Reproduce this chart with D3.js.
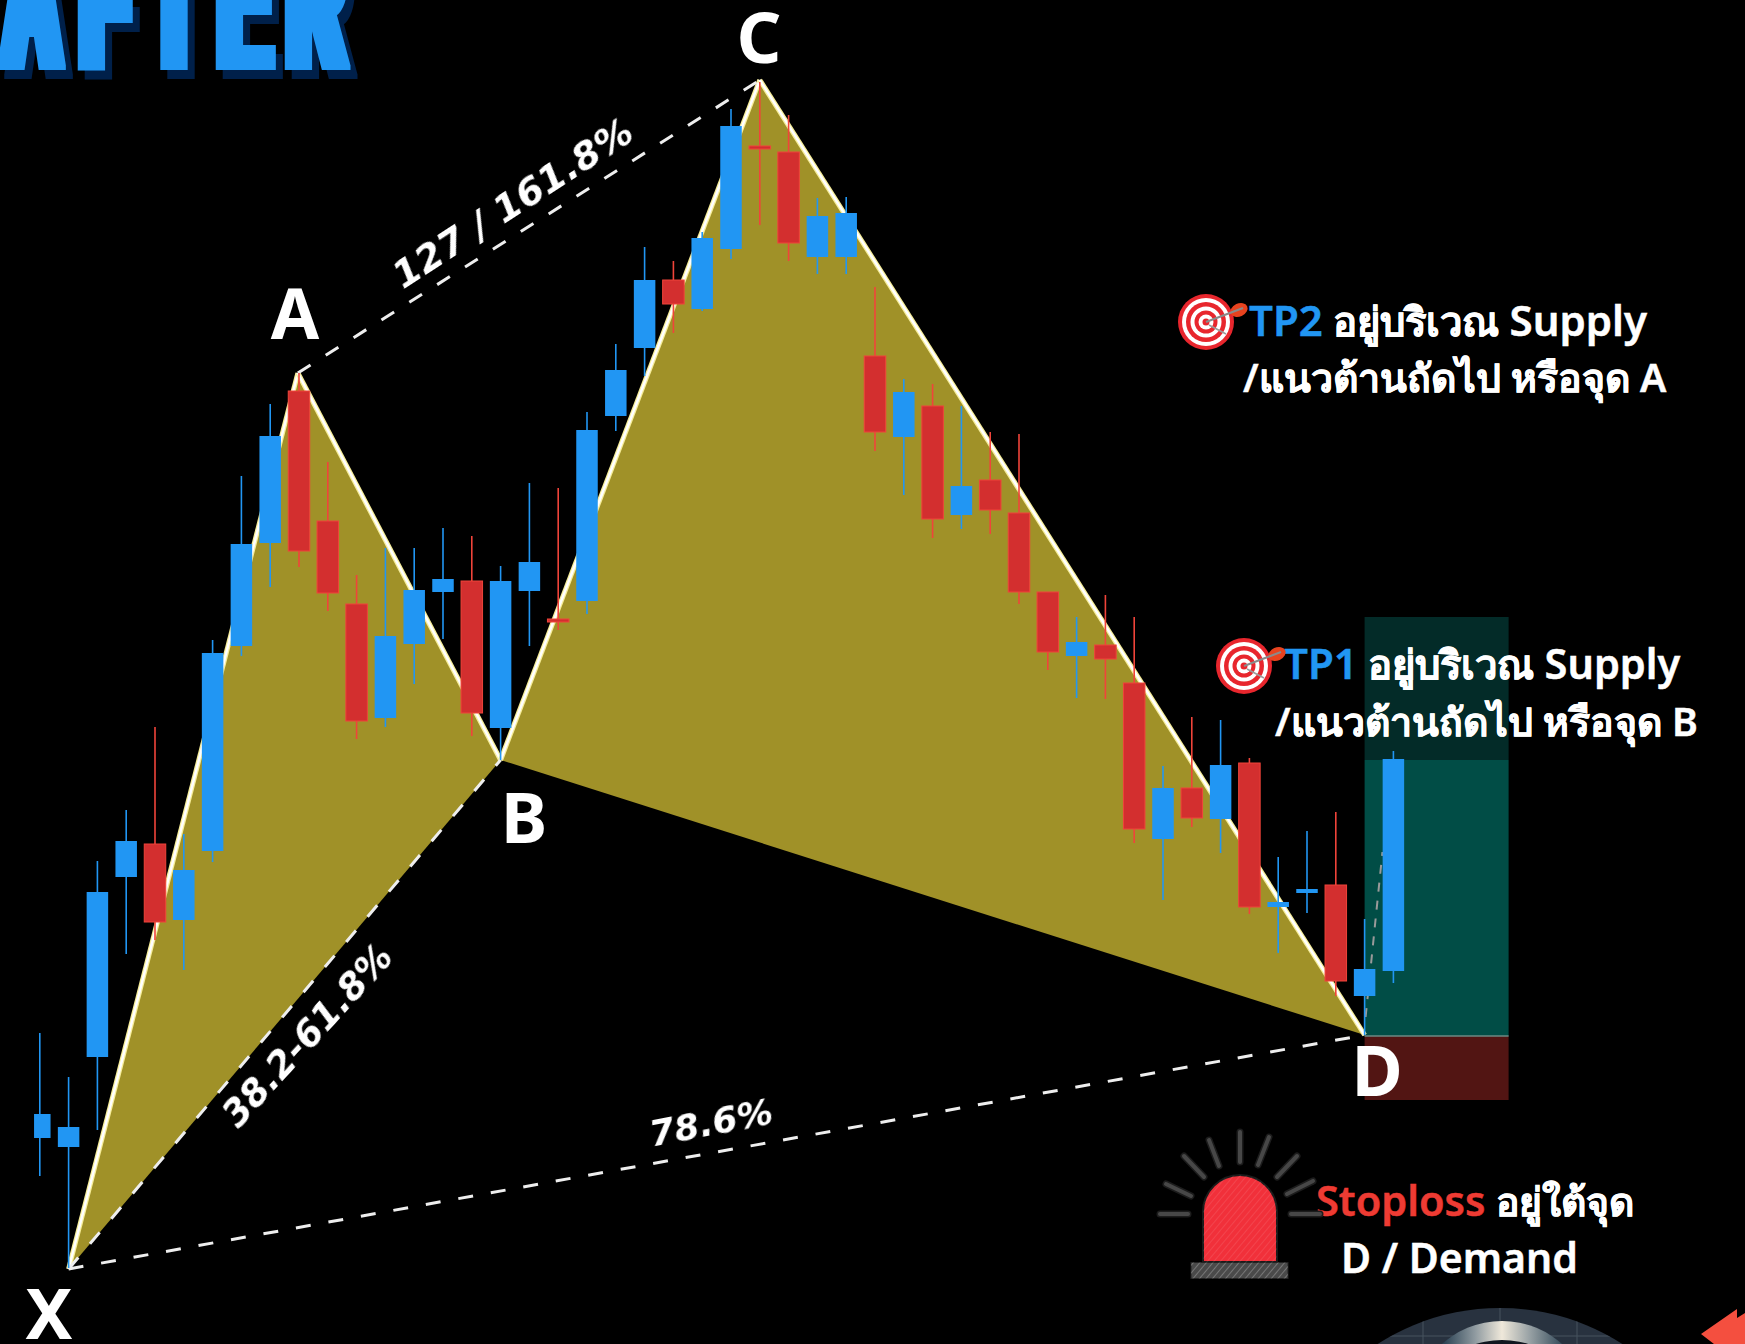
<!DOCTYPE html>
<html>
<head>
<meta charset="utf-8">
<script src="https://cdn.jsdelivr.net/npm/d3@7"></script>
<style>
  html, body { margin: 0; padding: 0; background: #000; overflow: hidden; }
  svg { display: block; }
  text { font-family: "Noto Sans", "Open Sans", sans-serif; }
</style>
</head>
<body>
<svg id="chart"></svg>
<script>
// Harmonic XABCD pattern drawn over a candle series

const WIDTH = 1745, HEIGHT = 1344;

// candle values (price units = pixels up from chart bottom)
const opens  = [206, 197, 287, 467, 500, 424, 493, 698, 801, 953, 823, 740, 626, 700, 752, 763, 616, 753, 725, 743, 928, 996, 1064, 1035, 1095, 1198, 1192, 1087, 1087, 988, 907, 938, 829, 864, 831, 752, 688, 699, 661, 505, 556, 525, 581, 437, 451, 459, 348, 373];
const closes = [230, 217, 452, 503, 422, 474, 691, 800, 908, 793, 751, 623, 708, 754, 765, 631, 763, 782, 722, 914, 974, 1064, 1040, 1106, 1218, 1197, 1101, 1128, 1131, 912, 952, 825, 858, 834, 752, 692, 702, 685, 515, 556, 526, 579, 437, 442, 455, 363, 375, 585];
const highs  = [311, 267, 483, 534, 617, 510, 704, 868, 940, 971, 882, 769, 796, 796, 816, 808, 778, 861, 856, 932, 1000, 1097, 1083, 1112, 1235, 1262, 1229, 1146, 1147, 1057, 965, 960, 938, 912, 910, 752, 727, 749, 727, 578, 627, 624, 586, 487, 513, 532, 425, 593];
const lows   = [168, 76, 214, 390, 404, 374, 482, 688, 757, 777, 733, 605, 617, 660, 705, 608, 584, 698, 714, 730, 913, 968, 1011, 1033, 1085, 1119, 1083, 1070, 1070, 893, 849, 806, 815, 810, 740, 674, 646, 645, 501, 444, 517, 491, 430, 391, 431, 348, 309, 361];
const isUp   = ['u','u','u','u','d','u','u','u','u','d','d','d','u','u','u','d','u','u','d','u','u','u','d','u','u','d','d','u','u','d','u','d','u','d','d','d','u','d','d','u','d','u','d','u','u','d','u','u'];

// harmonic pattern pivots
const pivotNames = ['X', 'A', 'B', 'C', 'D'];
const pivotIndex = [1, 8.96, 16, 25, 46];
const pivotPrice = [75, 971, 584, 1264, 309];

// position box levels
const boxStartIndex = 46, boxEndIndex = 51;
const tp2Level = 727, tp1Level = 584, entryLevel = 308, stopLevel = 244;

// ratio labels
const ratioLabels = ['127 / 161.8%', '38.2-61.8%', '78.6%'];

const xScale = d3.scaleLinear().domain([0, 47]).range([39.8, 1393.4]);
const yScale = d3.scaleLinear().domain([0, HEIGHT]).range([HEIGHT, 0]);

const BLUE = '#2196F3', RED = '#D32F2F', RED_EDGE = '#F0443A', FILL = '#A09128';
const BODY_W = 21.5;

const svg = d3.select('#chart').attr('width', WIDTH).attr('height', HEIGHT)
  .attr('viewBox', `0 0 ${WIDTH} ${HEIGHT}`);

svg.append('rect').attr('width', WIDTH).attr('height', HEIGHT).attr('fill', '#000');

const defs = svg.append('defs');
const hatch = defs.append('pattern').attr('id', 'hatch').attr('width', 5).attr('height', 5)
  .attr('patternUnits', 'userSpaceOnUse').attr('patternTransform', 'rotate(40)');
hatch.append('line').attr('x1', 0).attr('y1', 0).attr('x2', 0).attr('y2', 5)
  .attr('stroke', '#fff').attr('stroke-width', 0.9).attr('stroke-opacity', 0.55);
defs.append('filter').attr('id', 'soft').append('feGaussianBlur').attr('stdDeviation', 0.6);
const metal = defs.append('linearGradient').attr('id', 'metal');
[[0.18, '#2d4455'], [0.35, '#8f9aa0'], [0.5, '#EFE8DA'], [0.65, '#9aa3a6'], [0.85, '#2d4455']].forEach(([o, c]) => {
  metal.append('stop').attr('offset', o).attr('stop-color', c);
});
defs.append('clipPath').attr('id', 'domeClip').append('circle').attr('cx', 1500).attr('cy', 1534).attr('r', 226);

// title font gets fattened sideways and given a hard shadow
const fat = defs.append('filter').attr('id', 'fatTitle')
  .attr('filterUnits', 'userSpaceOnUse')
  .attr('x', -60).attr('y', -120).attr('width', 500).attr('height', 260)
  .attr('color-interpolation-filters', 'sRGB');
fat.append('feMorphology').attr('in', 'SourceGraphic').attr('operator', 'dilate').attr('radius', '8 1.5').attr('result', 'fat');
fat.append('feOffset').attr('in', 'fat').attr('dx', 7).attr('dy', 9).attr('result', 'moved');
fat.append('feFlood').attr('flood-color', '#00204A').attr('result', 'ink');
fat.append('feComposite').attr('in', 'ink').attr('in2', 'moved').attr('operator', 'in').attr('result', 'shadow');
const fatMerge = fat.append('feMerge');
fatMerge.append('feMergeNode').attr('in', 'shadow');
fatMerge.append('feMergeNode').attr('in', 'fat');

// title, cut by the top and left of the frame
const TITLE_SX = 0.42;
svg.append('g').attr('filter', 'url(#fatTitle)').append('text')
  .attr('transform', `translate(0,67.5) scale(${TITLE_SX},1)`)
  .attr('x', [3.3, 80.5, 150, 218.5, 287.5].map(v => v / TITLE_SX).join(' '))
  .attr('font-size', 187)
  .attr('font-weight', 700)
  .attr('fill', BLUE)
  .style('font-family', '"Liberation Sans", sans-serif')
  .text('AFTER');

// position box
const boxX = xScale(boxStartIndex), boxW = xScale(boxEndIndex) - boxX;
svg.append('rect').attr('x', boxX).attr('width', boxW)
  .attr('y', yScale(tp2Level)).attr('height', yScale(tp1Level) - yScale(tp2Level)).attr('fill', '#032B28');
svg.append('rect').attr('x', boxX).attr('width', boxW)
  .attr('y', yScale(tp1Level)).attr('height', yScale(entryLevel) - yScale(tp1Level)).attr('fill', '#014D46');
svg.append('rect').attr('x', boxX).attr('width', boxW)
  .attr('y', yScale(entryLevel)).attr('height', yScale(stopLevel) - yScale(entryLevel)).attr('fill', '#521513');
svg.append('line').attr('x1', boxX).attr('x2', boxX + boxW)
  .attr('y1', yScale(entryLevel)).attr('y2', yScale(entryLevel)).attr('stroke', '#6d8a85').attr('stroke-width', 1.5);

// harmonic legs
const pivots = pivotNames.map((n, i) => ({ name: n, x: xScale(pivotIndex[i]), y: yScale(pivotPrice[i]) }));
const pt = Object.fromEntries(pivots.map(p => [p.name, p]));
const line = d3.line().x(d => d.x).y(d => d.y);

svg.append('path').attr('d', line([pt.X, pt.A, pt.B]) + 'Z').attr('fill', FILL);
svg.append('path').attr('d', line([pt.B, pt.C, pt.D]) + 'Z').attr('fill', FILL);

[[pt.X, pt.A], [pt.A, pt.B], [pt.B, pt.C], [pt.C, pt.D]].forEach(seg => {
  svg.append('path').attr('d', line(seg)).attr('fill', 'none').attr('stroke', '#F7EE9A').attr('stroke-width', 5);
  svg.append('path').attr('d', line(seg)).attr('fill', 'none').attr('stroke', '#fff').attr('stroke-width', 2.5);
});

[[pt.X, pt.B], [pt.A, pt.C], [pt.X, pt.D]].forEach(seg => {
  svg.append('path').attr('d', line(seg)).attr('fill', 'none')
    .attr('stroke', '#eee').attr('stroke-width', 3).attr('stroke-dasharray', '15 18');
});

// faint projection from D behind the last candle
svg.append('path')
  .attr('d', line([{ x: pt.D.x + 1, y: pt.D.y - 18 }, { x: xScale(46.62), y: yScale(492) }]))
  .attr('stroke', '#9a9a9a').attr('stroke-width', 2).attr('stroke-dasharray', '9 9').attr('fill', 'none');

// candles
const candles = opens.map((o, i) => ({ i, o, c: closes[i], h: highs[i], l: lows[i], up: isUp[i] === 'u' }));

const g = svg.append('g').attr('class', 'candles');
g.selectAll('line.wick').data(candles).join('line')
  .attr('class', 'wick')
  .attr('x1', d => xScale(d.i)).attr('x2', d => xScale(d.i))
  .attr('y1', d => yScale(d.h)).attr('y2', d => yScale(d.l))
  .attr('stroke', d => d.up ? BLUE : '#F0443A')
  .attr('stroke-width', 1.6);
// first candle's body is cut short on its left in the source
const bodyInset = d => d.i === 0 ? 5 : 0;
g.selectAll('rect.body').data(candles).join('rect')
  .attr('class', 'body')
  .attr('x', d => xScale(d.i) - BODY_W / 2 + bodyInset(d)).attr('width', d => BODY_W - bodyInset(d))
  .attr('y', d => yScale(Math.max(d.o, d.c)))
  .attr('height', d => Math.max(3, Math.abs(yScale(d.o) - yScale(d.c))))
  .attr('fill', d => d.up ? BLUE : RED)
  .attr('stroke', d => d.up ? 'none' : RED_EDGE)
  .attr('stroke-width', 1);

// pivot letters
const letterPos = { X: [49, 1339], A: [295, 339], B: [524, 843], C: [759, 63], D: [1377, 1096] };
pivotNames.forEach(n => {
  svg.append('text').attr('x', letterPos[n][0]).attr('y', letterPos[n][1])
    .attr('text-anchor', 'middle').attr('font-size', 70).attr('font-weight', 700)
    .attr('fill', '#fff').text(n);
});

// ratio labels
[[512.5, 203, -33, 38], [307, 1035, -47.5, 36.5], [711, 1122, -11, 36]].forEach(([x, y, r, s], i) => {
  svg.append('text')
    .attr('transform', `translate(${x},${y}) rotate(${r})`)
    .attr('text-anchor', 'middle').attr('dy', '0.35em')
    .attr('font-size', s).attr('font-weight', 700).attr('font-style', 'italic')
    .attr('fill', '#fff').attr('filter', 'url(#soft)')
    .style('font-family', '"DejaVu Sans", sans-serif')
    .text(ratioLabels[i]);
});

// annotation text
function note(x, y, parts) {
  const t = svg.append('text').attr('x', x).attr('y', y).attr('font-weight', 600)
    .attr('stroke-width', 0.5);
  parts.forEach(([s, c, fs]) => t.append('tspan').attr('fill', c).attr('stroke', c).attr('font-size', fs).text(s));
}
note(1249, 336, [['TP2', BLUE, 42], [' อยู่บริเวณ ', '#fff', 40], ['Supply', '#fff', 42]]);
note(1243, 392, [['/แนวต้านถัดไป หรือจุด A', '#fff', 39.2]]);
note(1284, 679, [['TP1', BLUE, 42], [' อยู่บริเวณ ', '#fff', 40], ['Supply', '#fff', 41.5]]);
note(1275, 736, [['/แนวต้านถัดไป หรือจุด B', '#fff', 39.2]]);
note(1316, 1216, [['Stoploss', '#EE3B33', 41.5], [' อยู่ใต้จุด', '#fff', 39]]);
note(1341, 1273, [['D / Demand', '#fff', 41]]);

// dartboard icons
function target(cx, cy) {
  const ic = svg.append('g').attr('transform', `translate(${cx},${cy})`);
  [[28, '#E8262D'], [24, '#fff'], [20, '#E8262D'], [15.5, '#fff'], [11.5, '#E8262D'], [7.5, '#fff'], [3.5, '#E8262D']].forEach(([r, c]) => {
    ic.append('circle').attr('r', r).attr('fill', c);
  });
  ic.append('ellipse').attr('cx', 33).attr('cy', -12).attr('rx', 9).attr('ry', 6.5)
    .attr('transform', 'rotate(-25 33 -12)').attr('fill', '#E8431F');
  ic.append('line').attr('x1', 0).attr('y1', 0).attr('x2', 37).attr('y2', -14)
    .attr('stroke', '#8a8a8a').attr('stroke-width', 2);
  ic.append('line').attr('x1', 3).attr('y1', 3).attr('x2', 20).attr('y2', 12)
    .attr('stroke', '#9a9a9a').attr('stroke-width', 1.5);
}
target(1206, 322);
target(1244, 666);

// siren icon
const siren = svg.append('g').attr('transform', 'translate(1240,1214)');
[[-80, 0, -52, 0], [51, 0, 80, 0], [-74, -30, -49, -18], [73, -33, 47, -20], [-56, -58, -36, -37],
 [57, -58, 37, -37], [-31, -74, -21, -48], [29, -77, 18, -49], [0, -82, 0, -52]].forEach(([x1, y1, x2, y2]) => {
  siren.append('line').attr('x1', x1).attr('y1', y1).attr('x2', x2).attr('y2', y2)
    .attr('stroke', '#1c1c1c').attr('stroke-width', 7).attr('stroke-linecap', 'round');
  siren.append('line').attr('x1', x1).attr('y1', y1).attr('x2', x2).attr('y2', y2)
    .attr('stroke', '#474747').attr('stroke-width', 4).attr('stroke-linecap', 'round');
});
const domePath = 'M-37,48 V-2 A37,37 0 0 1 37,-2 V48 Z';
siren.append('path').attr('d', domePath).attr('fill', '#F1303A').attr('stroke', '#1a1a1a').attr('stroke-width', 2);
siren.append('path').attr('d', domePath).attr('fill', 'url(#hatch)').attr('opacity', 0.4);
siren.append('rect').attr('x', -49).attr('y', 48.5).attr('width', 97).attr('height', 16).attr('fill', '#4a4a4a').attr('stroke', '#222');
siren.append('rect').attr('x', -49).attr('y', 48.5).attr('width', 97).attr('height', 16).attr('fill', 'url(#hatch)');

// bits of the next panel at the bottom edge
const bottom = svg.append('g');
const dome = bottom.append('g').attr('clip-path', 'url(#domeClip)');
dome.append('rect').attr('x', 1270).attr('y', 1300).attr('width', 460).attr('height', 44).attr('fill', '#28323F');
[1423, 1500, 1577].forEach(x => {
  dome.append('line').attr('x1', x).attr('x2', x).attr('y1', 1300).attr('y2', 1344).attr('stroke', '#47525F').attr('stroke-width', 1);
});
dome.append('line').attr('x1', 1270).attr('x2', 1730).attr('y1', 1336).attr('y2', 1336).attr('stroke', '#47525F').attr('stroke-width', 1);
bottom.append('circle').attr('cx', 1502).attr('cy', 1411).attr('r', 90).attr('fill', 'url(#metal)');
bottom.append('circle').attr('cx', 1502).attr('cy', 1428).attr('r', 88).attr('fill', '#10161f');
bottom.append('path').attr('d', 'M1745,1313 L1737,1318 L1737,1309 L1701,1334 L1714,1344 L1745,1344 Z').attr('fill', '#F44F3F');
</script>
</body>
</html>
